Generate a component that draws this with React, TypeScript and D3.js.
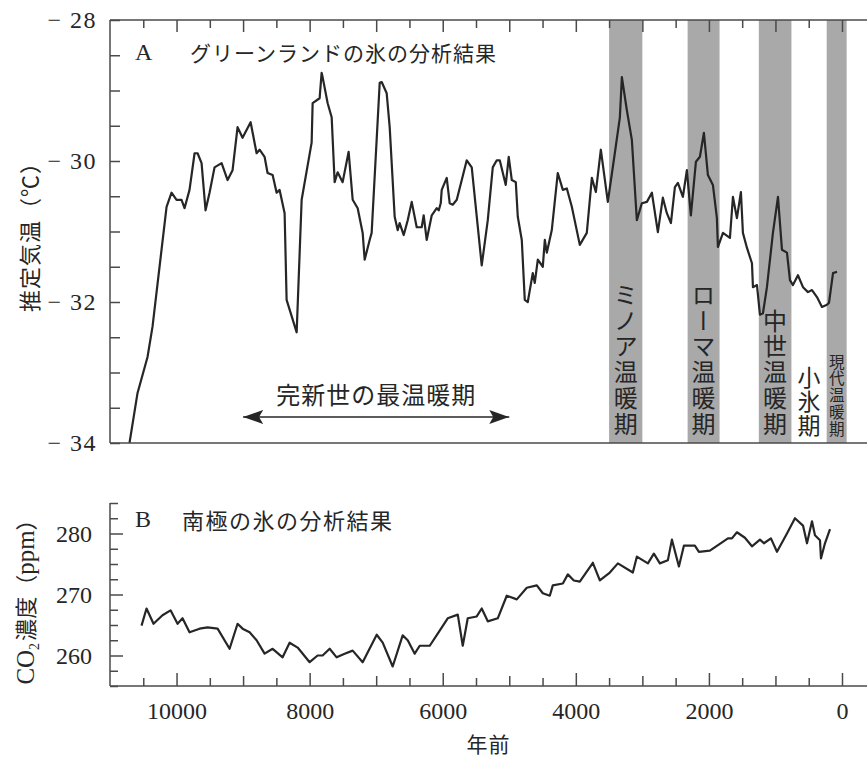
import React, { useRef, useEffect } from 'react';
import * as d3 from 'd3';

// panel A: Greenland ice core temperature (years before present, deg C)
const tempYears = [10707, 10586, 10436, 10361, 10150, 10075, 10000, 9925, 9880, 9805, 9729, 9684, 9624, 9564, 9504, 9429, 9323, 9233, 9158, 9083, 9008, 8887, 8797, 8752, 8677, 8632, 8556, 8496, 8451, 8376, 8346, 8195, 8120, 7970, 7955, 7850, 7820, 7805, 7729, 7669, 7624, 7579, 7504, 7414, 7353, 7278, 7203, 7173, 7098, 7068, 6947, 6917, 6842, 6797, 6722, 6677, 6647, 6586, 6526, 6466, 6391, 6316, 6286, 6241, 6165, 6090, 6060, 6030, 6015, 5940, 5895, 5850, 5789, 5639, 5564, 5414, 5323, 5248, 5188, 5143, 5053, 5008, 4962, 4902, 4872, 4812, 4767, 4722, 4647, 4617, 4571, 4496, 4466, 4436, 4361, 4271, 4195, 4135, 4060, 3940, 3835, 3759, 3699, 3624, 3519, 3414, 3338, 3308, 3233, 3158, 3083, 3008, 2932, 2857, 2767, 2692, 2632, 2571, 2511, 2466, 2391, 2331, 2271, 2195, 2135, 2075, 2015, 1940, 1880, 1865, 1789, 1684, 1639, 1579, 1519, 1489, 1429, 1353, 1338, 1278, 1233, 1188, 1128, 1038, 962, 902, 827, 782, 737, 662, 586, 511, 451, 376, 301, 226, 195, 135, 75];
const tempValues = [-34.0, -33.29, -32.78, -32.35, -30.65, -30.45, -30.55, -30.55, -30.67, -30.41, -29.89, -29.89, -30.03, -30.7, -30.45, -30.09, -30.03, -30.27, -30.13, -29.52, -29.67, -29.45, -29.89, -29.84, -29.94, -30.17, -30.2, -30.45, -30.41, -30.74, -31.97, -32.43, -30.55, -29.74, -29.18, -29.11, -28.75, -28.81, -29.18, -29.38, -30.3, -30.16, -30.3, -29.87, -30.55, -30.67, -31.02, -31.4, -31.12, -31.02, -28.89, -28.88, -29.04, -29.52, -30.79, -30.98, -30.88, -31.05, -30.84, -30.58, -30.94, -30.94, -30.77, -31.12, -30.77, -30.67, -30.7, -30.6, -30.41, -30.24, -30.6, -30.62, -30.55, -29.99, -30.09, -31.48, -30.84, -30.09, -29.99, -29.99, -30.34, -29.94, -30.27, -30.3, -30.79, -31.12, -31.97, -32.0, -31.59, -31.73, -31.4, -31.5, -31.12, -31.3, -30.98, -30.17, -30.41, -30.39, -30.65, -31.19, -31.02, -30.24, -30.44, -29.84, -30.58, -29.89, -29.38, -28.81, -29.28, -29.7, -30.84, -30.6, -30.58, -30.45, -31.01, -30.52, -30.74, -30.88, -30.37, -30.31, -30.51, -30.13, -30.77, -30.01, -29.94, -29.6, -30.2, -30.34, -30.81, -31.22, -31.02, -31.09, -30.51, -30.81, -30.44, -31.02, -31.23, -31.45, -31.79, -31.76, -32.18, -32.16, -31.79, -31.02, -30.51, -31.26, -31.3, -31.69, -31.76, -31.62, -31.79, -31.86, -31.83, -31.93, -32.07, -32.04, -32.01, -31.59, -31.57];

// panel B: Antarctic ice core CO2 (ppm)
const co2Years = [10526, 10451, 10346, 10211, 10090, 9985, 9910, 9805, 9654, 9534, 9383, 9203, 9083, 9008, 8902, 8797, 8677, 8556, 8406, 8301, 8180, 8000, 7880, 7805, 7699, 7594, 7474, 7353, 7203, 6992, 6902, 6752, 6602, 6526, 6421, 6346, 6195, 6075, 5925, 5774, 5699, 5624, 5489, 5414, 5323, 5173, 5038, 4887, 4737, 4586, 4496, 4391, 4346, 4195, 4120, 4030, 3940, 3744, 3639, 3489, 3368, 3143, 3083, 2917, 2827, 2737, 2617, 2556, 2451, 2376, 2211, 2150, 1985, 1714, 1654, 1579, 1459, 1353, 1233, 1173, 1068, 977, 827, 707, 586, 526, 451, 406, 331, 316, 256, 180];
const co2Values = [264.9, 267.7, 265.2, 266.6, 267.4, 265.2, 266.1, 263.8, 264.4, 264.6, 264.4, 261.1, 265.2, 264.4, 263.8, 262.5, 260.3, 261.1, 259.7, 262.1, 261.3, 258.9, 260.0, 260.0, 261.1, 259.7, 260.3, 260.8, 258.9, 263.4, 262.1, 258.2, 263.3, 262.5, 260.3, 261.6, 261.6, 263.6, 266.1, 266.7, 261.6, 266.1, 266.4, 267.7, 265.6, 266.1, 269.8, 269.2, 271.1, 271.5, 270.2, 269.8, 271.5, 271.8, 273.3, 272.3, 272.1, 275.2, 272.3, 273.6, 275.1, 273.6, 276.2, 275.1, 276.7, 275.1, 275.6, 279.0, 274.6, 278.0, 278.0, 277.0, 277.2, 279.2, 279.2, 280.2, 279.3, 277.9, 279.0, 278.4, 279.2, 277.0, 280.0, 282.5, 281.3, 278.4, 282.0, 279.7, 278.9, 275.9, 278.4, 280.7];

// shaded warm periods
const periodStarts = [3500, 2320, 1250, 230];
const periodEnds = [3000, 1840, 760, -70];
const periodLabels = ['ミノア温暖期', 'ローマ温暖期', '中世温暖期', '現代温暖期'];
const coldLabel = '小氷期';

const optimumRange = [9000, 5000];
const optimumLabel = '完新世の最温暖期';

const tempTicks = [-34, -32, -30, -28];
const co2Ticks = [260, 270, 280];
const yearLabels = [10000, 8000, 6000, 4000, 2000, 0];

const jpFont = '"Noto Sans CJK JP", sans-serif';
const numFont = '"Liberation Serif", serif';
const ink = '#262626';
const axisInk = '#4a4a4a';

const App = () => {
    const svgRef = useRef<SVGSVGElement>(null);

    const width = 867;
    const height = 758;

    useEffect(() => {
        const svg = d3.select(svgRef.current);
        svg.selectAll('*').remove();

        const x = d3.scaleLinear().domain([11000, 0]).range([110, 842]);
        const yA = d3.scaleLinear().domain([-34, -28]).range([443, 20]);
        const yB = d3.scaleLinear().domain([255, 285]).range([686, 503]);
        const x0 = x.range()[0];

        const defs = svg.append('defs');
        defs.append('marker')
            .attr('id', 'arrowHead')
            .attr('viewBox', '0 0 20 14')
            .attr('refX', 20)
            .attr('refY', 7)
            .attr('markerWidth', 20)
            .attr('markerHeight', 14)
            .attr('markerUnits', 'userSpaceOnUse')
            .attr('orient', 'auto-start-reverse')
            .append('path')
            .attr('d', 'M0,0 L20,7 L0,14 L4,7 Z')
            .attr('fill', ink);

        // ---- panel A ----
        const bands = svg.append('g');
        periodStarts.forEach((s, i) => {
            bands.append('rect')
                .attr('x', x(s))
                .attr('y', yA.range()[1])
                .attr('width', x(periodEnds[i]) - x(s))
                .attr('height', yA.range()[0] - yA.range()[1])
                .attr('fill', '#a9a9a9');
        });

        // vertical (tate-gaki) labels, one text each
        const drawVertical = (label, cx, bottom, size, spacing) => {
            svg.append('text')
                .attr('x', cx)
                .attr('y', bottom)
                .attr('writing-mode', 'vertical-rl')
                .style('writing-mode', 'vertical-rl')
                .attr('text-anchor', 'end')
                .attr('font-family', jpFont)
                .attr('font-size', size)
                .attr('letter-spacing', spacing)
                .attr('fill', ink)
                .text(label);
        };

        const labelBottom = yA(-34) - 5;
        periodLabels.forEach((lab, i) => {
            const w = x(periodEnds[i]) - x(periodStarts[i]);
            const size = Math.min(24, w * 0.78);
            drawVertical(lab, (x(periodStarts[i]) + x(periodEnds[i])) / 2, labelBottom, size, size * 0.08);
        });
        drawVertical(coldLabel, x((periodEnds[2] + periodStarts[3]) / 2), labelBottom, 23, 1);

        const tempLine = d3.line<number>()
            .x((d, i) => x(tempYears[i]))
            .y(d => yA(d));
        svg.append('path')
            .attr('d', tempLine(tempValues))
            .attr('fill', 'none')
            .attr('stroke', ink)
            .attr('stroke-width', 2.2)
            .attr('stroke-linejoin', 'round');

        // frame of panel A
        const frame = svg.append('g').attr('stroke', axisInk).attr('stroke-width', 1.5);
        frame.append('line').attr('x1', x0).attr('x2', width).attr('y1', yA(-28)).attr('y2', yA(-28));
        frame.append('line').attr('x1', x0).attr('x2', width).attr('y1', yA(-34)).attr('y2', yA(-34));
        frame.append('line').attr('x1', x0).attr('x2', x0).attr('y1', yA(-28)).attr('y2', yA(-34));

        const minorYears = d3.range(10500, -1, -500);

        const topAxis = svg.append('g')
            .attr('transform', `translate(0,${yA(-28)})`)
            .call(d3.axisTop(x).tickValues(minorYears).tickSize(-12).tickFormat(() => ''));
        topAxis.select('.domain').remove();
        topAxis.selectAll('.tick line')
            .attr('y2', d => (d % 1000 === 0 ? 12 : 8))
            .attr('stroke', axisInk).attr('stroke-width', 1.5);

        const leftA = svg.append('g')
            .attr('transform', `translate(${x0},0)`)
            .call(d3.axisLeft(yA).tickValues(d3.range(-34, -27.9, 0.5)).tickSize(-10).tickPadding(13)
                .tickFormat(d => (tempTicks.includes(d) ? `− ${-d}` : '')));
        leftA.select('.domain').remove();
        leftA.selectAll('.tick line').attr('stroke', axisInk).attr('stroke-width', 1.5);
        leftA.selectAll('.tick text')
            .attr('font-family', numFont).attr('font-size', 24).attr('letter-spacing', 1.5).attr('fill', ink);

        svg.append('text')
            .attr('x', 135).attr('y', 60)
            .attr('font-family', numFont).attr('font-size', 24).attr('fill', ink)
            .text('A');
        svg.append('text')
            .attr('x', 190).attr('y', 52)
            .attr('dominant-baseline', 'central')
            .attr('font-family', jpFont).attr('font-size', 21).attr('letter-spacing', 1)
            .attr('fill', ink)
            .text('グリーンランドの氷の分析結果');

        // holocene optimum arrow
        svg.append('line')
            .attr('x1', x(optimumRange[0])).attr('x2', x(optimumRange[1]))
            .attr('y1', 417).attr('y2', 417)
            .attr('stroke', ink).attr('stroke-width', 1.6)
            .attr('marker-start', 'url(#arrowHead)')
            .attr('marker-end', 'url(#arrowHead)');
        svg.append('text')
            .attr('x', x((optimumRange[0] + optimumRange[1]) / 2))
            .attr('y', 393)
            .attr('text-anchor', 'middle')
            .attr('dominant-baseline', 'central')
            .attr('font-family', jpFont).attr('font-size', 24).attr('letter-spacing', 1)
            .attr('fill', ink)
            .text(optimumLabel);

        svg.append('text')
            .attr('transform', `translate(28,${(yA(-28) + yA(-34)) / 2}) rotate(-90)`)
            .attr('text-anchor', 'middle')
            .attr('dominant-baseline', 'central')
            .attr('font-family', jpFont).attr('font-size', 22).attr('letter-spacing', 1)
            .attr('fill', ink)
            .text('推定気温（℃）');

        // ---- panel B ----
        const co2Line = d3.line<number>()
            .x((d, i) => x(co2Years[i]))
            .y(d => yB(d));
        svg.append('path')
            .attr('d', co2Line(co2Values))
            .attr('fill', 'none')
            .attr('stroke', ink)
            .attr('stroke-width', 2.2)
            .attr('stroke-linejoin', 'round');

        const frameB = svg.append('g').attr('stroke', axisInk).attr('stroke-width', 1.5);
        frameB.append('line').attr('x1', x0).attr('x2', width).attr('y1', yB(255)).attr('y2', yB(255));
        frameB.append('line').attr('x1', x0).attr('x2', x0).attr('y1', yB(285)).attr('y2', yB(255));

        const leftB = svg.append('g')
            .attr('transform', `translate(${x0},0)`)
            .call(d3.axisLeft(yB).tickValues(d3.range(255, 285.1, 2.5)).tickSize(-13).tickPadding(18)
                .tickFormat(d => (co2Ticks.includes(d) ? String(d) : '')));
        leftB.select('.domain').remove();
        leftB.selectAll('.tick line')
            .attr('x2', d => (co2Ticks.includes(d) ? 13 : 8))
            .attr('stroke', axisInk).attr('stroke-width', 1.5);
        leftB.selectAll('.tick text')
            .attr('font-family', numFont).attr('font-size', 24).attr('fill', ink);

        const bottomB = svg.append('g')
            .attr('transform', `translate(0,${yB(255)})`)
            .call(d3.axisBottom(x).tickValues(minorYears).tickSize(-13).tickPadding(16)
                .tickFormat(d => (yearLabels.includes(d) ? String(d) : '')));
        bottomB.select('.domain').remove();
        bottomB.selectAll('.tick line')
            .attr('y2', d => (yearLabels.includes(d) ? -13 : d % 1000 === 0 ? -10 : -8))
            .attr('stroke', axisInk).attr('stroke-width', 1.5);
        bottomB.selectAll('.tick text')
            .attr('font-family', numFont).attr('font-size', 24).attr('fill', ink);

        svg.append('text')
            .attr('x', 135).attr('y', 527)
            .attr('font-family', numFont).attr('font-size', 24).attr('fill', ink)
            .text('B');
        svg.append('text')
            .attr('x', 182).attr('y', 519)
            .attr('dominant-baseline', 'central')
            .attr('font-family', jpFont).attr('font-size', 22).attr('letter-spacing', 1.5)
            .attr('fill', ink)
            .text('南極の氷の分析結果');

        const co2Title = svg.append('text')
            .attr('transform', `translate(34,${(yB(285) + yB(255)) / 2 + 2}) rotate(-90)`)
            .attr('text-anchor', 'middle')
            .attr('fill', ink);
        co2Title.append('tspan').attr('font-family', numFont).attr('font-size', 25).text('CO');
        co2Title.append('tspan').attr('font-family', numFont).attr('font-size', 14).attr('dy', 5).text('2');
        co2Title.append('tspan').attr('font-family', jpFont).attr('font-size', 22).attr('dy', -5).attr('dx', 2).text('濃度（');
        co2Title.append('tspan').attr('font-family', numFont).attr('font-size', 25).text('ppm');
        co2Title.append('tspan').attr('font-family', jpFont).attr('font-size', 22).text('）');

        svg.append('text')
            .attr('x', (x0 + width) / 2)
            .attr('y', 743)
            .attr('text-anchor', 'middle')
            .attr('dominant-baseline', 'central')
            .attr('font-family', jpFont).attr('font-size', 21).attr('letter-spacing', 1)
            .attr('fill', ink)
            .text('年前');

        return () => {
            d3.select(svgRef.current).selectAll('*').remove();
        };
    }, []);

    return (
        <svg
            ref={svgRef}
            width={width}
            height={height}
            style={{ position: 'absolute', left: 0, top: 0, background: '#fff' }}
        />
    );
};

export default App;
